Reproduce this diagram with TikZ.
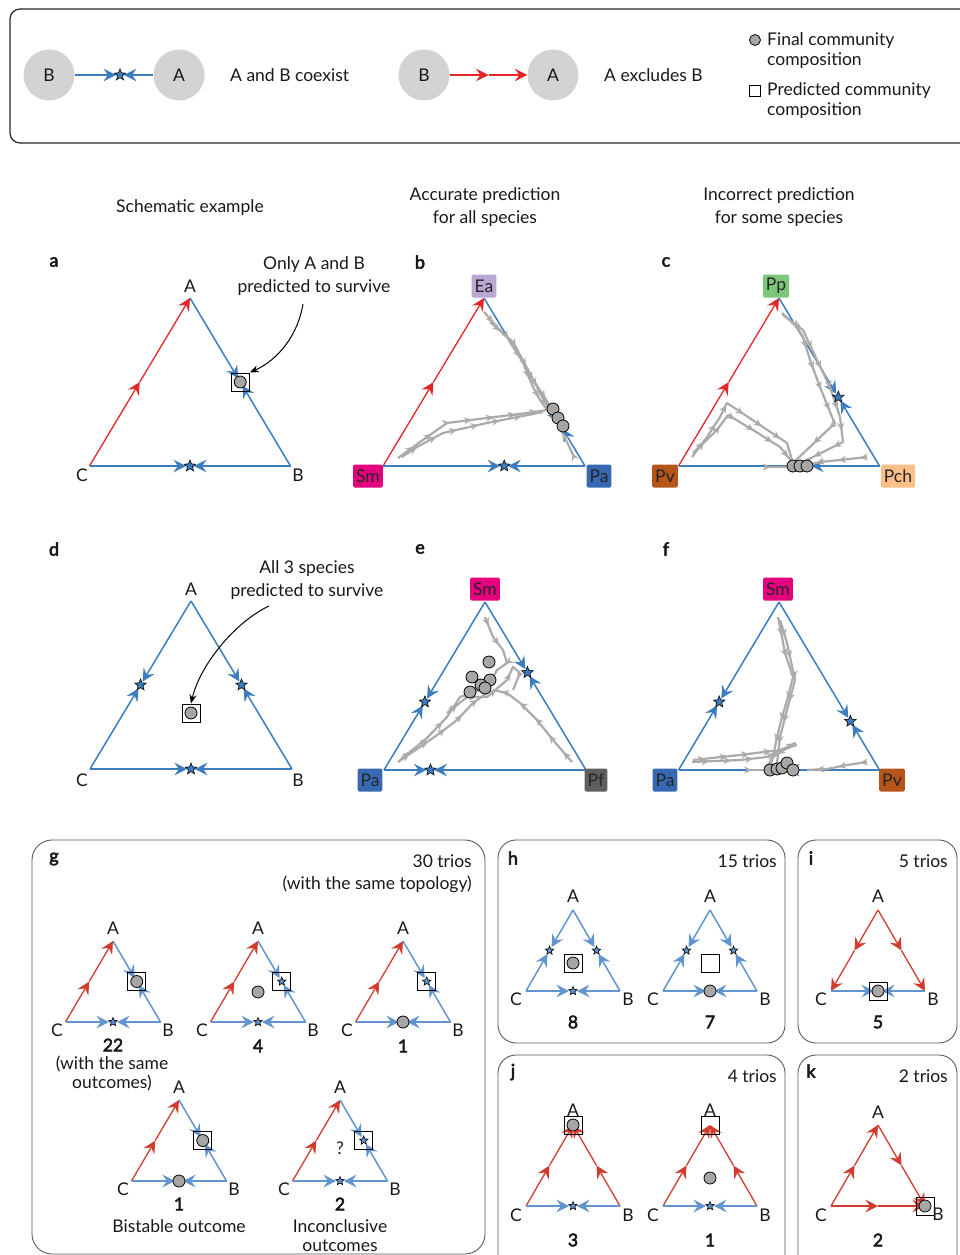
\documentclass[tikz,border=0pt]{standalone}
\usepackage{fontspec}
\setmainfont{Lato}[BoldFont=Lato,BoldFeatures={FakeBold=3.2}]
\usetikzlibrary{arrows.meta,shapes.geometric,calc,decorations.markings}

\definecolor{exred}{HTML}{E52629}
\definecolor{coblue}{HTML}{3C7DBF}
\definecolor{smred}{HTML}{D23C2F}
\definecolor{smblue}{HTML}{6294CF}
\definecolor{dotgray}{HTML}{A6A6A6}
\definecolor{trajgray}{HTML}{ABABAB}
\definecolor{sppgray}{HTML}{D3D3D3}
\definecolor{colSm}{HTML}{E5007E}
\definecolor{colPa}{HTML}{3669B1}
\definecolor{colEa}{HTML}{B9A8D3}
\definecolor{colPp}{HTML}{7DC77A}
\definecolor{colPv}{HTML}{B5551A}
\definecolor{colPch}{HTML}{FDBF87}
\definecolor{colPf}{HTML}{5E5E5E}

\newcommand{\tri}[5]{%
  \coordinate (#1A) at (#2,#3);
  \coordinate (#1B) at (#2+#4,#3+#5);
  \coordinate (#1C) at (#2-#4,#3+#5);}
\newcommand{\excl}[3][exred]{%
  \draw[#1,line width=1.3pt,endtip] (#2) -- ($(#2)!0.5!(#3)$);
  \draw[#1,line width=1.3pt,endtip] ($(#2)!0.5!(#3)$) -- (#3);}
\newcommand{\coex}[4][coblue]{%
  \draw[#1,line width=1.5pt,endtip,shorten >=4pt] (#2) -- (#4);
  \draw[#1,line width=1.5pt,endtip,shorten >=4pt] (#3) -- (#4);}

\begin{document}
\begin{tikzpicture}[x=1pt,y=-1pt,inner sep=0pt,text=black!90,font=\fontsize{17.5}{21}\selectfont,
  endtip/.style={-{Stealth[length=12.5pt,width=12.5pt,inset=4.5pt]}},
  spp/.style={circle,fill=sppgray,minimum size=51pt},
  eqstar/.style={star,star points=5,star point ratio=2.3,fill=coblue,draw=black,line width=0.6pt,minimum size=12pt},
  smstar/.style={eqstar,fill=smblue,minimum size=9pt},
  final/.style={circle,fill=dotgray,draw=black,line width=0.8pt,minimum size=12pt},
  pred/.style={rectangle,draw=black,line width=1pt,minimum size=18pt},
  spbox/.style={rounded corners=1.5pt,minimum height=23pt,inner xsep=3pt,text=black!85},
  panel/.style={font=\fontsize{18}{21}\selectfont\bfseries},
  numlbl/.style={font=\fontsize{17.5}{21}\selectfont\bfseries},
  twoline/.style={align=center,font=\fontsize{17.5}{23}\selectfont},
  trajline/.style={trajgray,line width=2.2pt,line join=round,postaction={decorate},
    decoration={markings,mark=between positions 0.12 and 0.95 step 22pt with {\arrow{Stealth[length=8pt,width=7pt]}}}},
  boxframe/.style={draw=black!65,line width=0.9pt,rounded corners=18pt}]
\useasboundingbox (0,0) rectangle (960,1255);

\draw[black!85,line width=1.2pt,rounded corners=10pt] (10,9) rectangle (985,143);
\node[spp] (lB1) at (49,75) {B};
\node[spp] (lA1) at (179,75) {A};
\coordinate (lE1) at (120,75);
\coex{lB1}{lA1}{lE1}
\node[eqstar] (lS1) at (lE1) {};
\node[anchor=west] (lT1) at (230,75) {A and B coexist};
\node[spp] (lB2) at (424,75) {B};
\node[spp] (lA2) at (553,75) {A};
\excl{lB2}{lA2}
\node[anchor=west] (lT2) at (604,75) {A excludes B};
\node[final,minimum size=11pt] (lF) at (755,40) {};
\node[anchor=west,align=left,font=\fontsize{17.5}{20}\selectfont] (lT3) at (767,51) {Final community\\composition};
\node[pred,minimum size=11pt] (lR) at (755,91) {};
\node[anchor=west,align=left,font=\fontsize{17.5}{20}\selectfont] (lT4) at (767,101) {Predicted community\\composition};

\node (h1) at (190,208) {Schematic example};
\node[twoline] (h2) at (485,207) {Accurate prediction\\for all species};
\node[twoline] (h3) at (779,207) {Incorrect prediction\\for some species};

% a
\node[panel] (pa) at (54,262) {a};
\tri{a}{190}{298}{100.5}{168}
\coordinate (aP) at ($(aA)!0.5!(aB)$);
\coordinate (aQ) at ($(aC)!0.5!(aB)$);
\excl{aC}{aA}
\coex{aA}{aB}{aP}
\coex{aC}{aB}{aQ}
\node[eqstar] (aS) at (aQ) {};
\node[final] (aF) at (aP) {};
\node[pred] (aR) at (aP) {};
\node (aLA) at (190,286) {A};
\node (aLC) at (82,475) {C};
\node (aLB) at (298,475) {B};
\node[twoline] (aNote) at (314,276) {Only A and B\\predicted to survive};
\draw[line width=1pt,-{Stealth[length=9pt,width=7pt]}] (303,304) .. controls (298,335) and (278,360) .. (aR.north east);

% b
\node[panel] (pb) at (420,262) {b};
\tri{b}{484}{298}{101}{168}
\coordinate (bP) at ($(bA)!0.76!(bB)$);
\coordinate (bQ) at ($(bC)!0.6!(bB)$);
\excl{bC}{bA}
\coex{bA}{bB}{bP}
\coex{bC}{bB}{bQ}
\draw[trajline] (484,312) -- (497,327) -- (507,337) -- (513,347) -- (522,360) -- (527,373) -- (533,387) -- (540,400) -- (547,410);
\draw[trajline] (490,322) -- (513,342) -- (527,368) -- (540,393) -- (553,417);
\draw[trajline] (398,458) -- (420,442) -- (447,423) -- (487,418) -- (527,413) -- (547,410);
\draw[trajline] (402,457) -- (417,447) -- (443,433) -- (487,423) -- (543,412);
\draw[trajline] (574,457) -- (568,444) -- (562,432) -- (558,421);
\draw[trajline] (530,375) -- (545,398) -- (556,416);
\node[eqstar] (bS) at (bQ) {};
\foreach \p/\q in {553/409,558/418,563/426} \node[final] (bF\p) at (\p,\q) {};
\node[spbox,fill=colEa] (bEa) at (484,286) {Ea};
\node[spbox,fill=colSm] (bSm) at (368,476) {Sm};
\node[spbox,fill=colPa] (bPa) at (599,476) {Pa};

% c
\node[panel] (pc) at (666,262) {c};
\tri{c}{779}{298}{100.5}{168}
\coordinate (cP) at ($(cA)!0.59!(cB)$);
\coordinate (cQ) at ($(cC)!0.64!(cB)$);
\excl{cC}{cA}
\coex{cA}{cB}{cP}
\coex{cC}{cB}{cQ}
\draw[trajline] (782,313) -- (797,327) -- (803,337) -- (810,360) -- (820,387) -- (832,417) -- (835,423) -- (793,463);
\draw[trajline] (783,315) -- (803,330) -- (817,360) -- (830,387) -- (840,417) -- (843,442) -- (813,457) -- (797,465);
\draw[trajline] (692,457) -- (707,437) -- (720,417) -- (727,403) -- (757,423) -- (787,443) -- (792,460);
\draw[trajline] (693,453) -- (717,430) -- (728,415) -- (753,430) -- (780,447) -- (793,463);
\draw[trajline] (867,457) -- (840,460) -- (820,462) -- (807,465);
\draw[trajline] (768,467) -- (790,467);
\node[eqstar] (cS) at (cP) {};
\foreach \p in {793,800,807} \node[final] (cF\p) at (\p,466) {};
\node[spbox,fill=colPp] (cPp) at (776,286) {Pp};
\node[spbox,fill=colPv] (cPv) at (665,476) {Pv};
\node[spbox,fill=colPch] (cPch) at (898,476) {Pch};

% d
\node[panel] (pd) at (54,549) {d};
\tri{d}{191}{601}{101}{168}
\coordinate (dL) at ($(dA)!0.5!(dC)$);
\coordinate (dR) at ($(dA)!0.5!(dB)$);
\coordinate (dQ) at ($(dC)!0.5!(dB)$);
\coordinate (dO) at (191,713);
\coex{dA}{dC}{dL}
\coex{dA}{dB}{dR}
\coex{dC}{dB}{dQ}
\foreach \s in {dL,dR,dQ} \node[eqstar] (\s S) at (\s) {};
\node[final] (dF) at (dO) {};
\node[pred] (dRq) at (dO) {};
\node (dLA) at (191,589) {A};
\node (dLC) at (82,780) {C};
\node (dLB) at (298,780) {B};
\node[twoline] (dNote) at (307,580) {All 3 species\\predicted to survive};
\draw[line width=1pt,-{Stealth[length=9pt,width=7pt]}] (269,606) .. controls (235,622) and (200,665) .. (dRq.north);

% e
\node[panel] (pe) at (420,549) {e};
\tri{e}{485}{602}{101}{168}
\coordinate (eL) at ($(eA)!0.595!(eC)$);
\coordinate (eR) at ($(eA)!0.42!(eB)$);
\coordinate (eQ) at ($(eC)!0.23!(eB)$);
\coex{eA}{eC}{eL}
\coex{eA}{eB}{eR}
\coex{eC}{eB}{eQ}
\draw[trajline] (398,762) -- (420,747) -- (440,733) -- (457,720) -- (473,703) -- (487,693);
\draw[trajline] (400,760) -- (427,738) -- (447,717) -- (460,697) -- (480,690);
\draw[trajline] (485,617) -- (493,637) -- (503,650) -- (507,663) -- (497,670) -- (490,683);
\draw[trajline] (572,762) -- (553,740) -- (537,720) -- (520,703) -- (507,693) -- (493,690);
\draw[trajline] (447,713) -- (467,697) -- (487,697) -- (507,680) -- (513,667) -- (520,673) -- (513,690);
\foreach \s in {eL,eR,eQ} \node[eqstar] (\s S) at (\s) {};
\foreach \p/\q in {489/662,472/677,490/680,481/685,485/688,470/692} \node[final] (eF\p) at (\p,\q) {};
\node[spbox,fill=colSm] (eSm) at (485,589) {Sm};
\node[spbox,fill=colPa] (ePa) at (370,780) {Pa};
\node[spbox,fill=colPf] (ePf) at (596,780) {Pf};

% f
\node[panel] (pf) at (666,549) {f};
\tri{f}{779}{602}{100.5}{168}
\coordinate (fL) at ($(fA)!0.595!(fC)$);
\coordinate (fR) at ($(fA)!0.71!(fB)$);
\coordinate (fQ) at ($(fC)!0.52!(fB)$);
\coex{fA}{fC}{fL}
\coex{fA}{fB}{fR}
\coex{fC}{fB}{fQ}
\draw[trajline] (778,617) -- (782,637) -- (785,653) -- (793,677) -- (788,697) -- (782,717) -- (777,737) -- (773,757) -- (770,767);
\draw[trajline] (780,620) -- (787,643) -- (795,680) -- (787,710) -- (780,737) -- (777,763);
\draw[trajline] (692,762) -- (740,760) -- (767,757) -- (795,743) -- (773,757) -- (767,767);
\draw[trajline] (693,760) -- (740,755) -- (780,750) -- (797,745);
\draw[trajline] (867,762) -- (847,765) -- (827,769) -- (807,770);
\draw[trajline] (750,770) -- (767,770);
\foreach \s in {fL,fR} \node[eqstar] (\s S) at (\s) {};
\foreach \p/\q in {770/770,777/769,782/768,787/763,793/770} \node[final] (fF\p) at (\p,\q) {};
\node[spbox,fill=colSm] (fSm) at (778,589) {Sm};
\node[spbox,fill=colPa] (fPa) at (665,780) {Pa};
\node[spbox,fill=colPv] (fPv) at (892,780) {Pv};

% g
\draw[boxframe,rounded corners=20pt] (32,840) rectangle (485,1254);
\node[panel] (pg) at (54,859) {g};
\node[anchor=east] (gT1) at (472,861) {30 trios};
\node[anchor=east] (gT2) at (472,884) {(with the same topology)};
\foreach \n/\x/\y in {g1/113/941,g2/258/941,g3/403/941,g4/179/1100,g5/340/1100} {
  \tri{\n}{\x}{\y}{47.5}{81}
  \coordinate (\n P) at ($(\n A)!0.5!(\n B)$);
  \coordinate (\n Q) at ($(\n C)!0.5!(\n B)$);
  \excl[smred]{\n C}{\n A}
  \coex[smblue]{\n A}{\n B}{\n P}
  \coex[smblue]{\n C}{\n B}{\n Q}
  \node (\n LA) at (\x,\y-13) {A};
  \node (\n LC) at (\x-56,\y+89) {C};
  \node (\n LB) at (\x+55,\y+89) {B};
}
\node[final] (g1F) at (g1P) {};
\node[pred] (g1R) at (g1P) {};
\node[smstar] (g1S) at (g1Q) {};
\node[numlbl] (g1N) at (113,1045) {22};
\node[align=center,font=\fontsize{17.5}{19}\selectfont] (g1T) at (112,1073) {(with the same\\outcomes)};
\node[smstar] (g2S) at (g2P) {};
\node[pred] (g2R) at (g2P) {};
\node[smstar] (g2S2) at (g2Q) {};
\node[final] (g2F) at (258,992) {};
\node[numlbl] (g2N) at (258,1046) {4};
\node[smstar] (g3S) at (g3P) {};
\node[pred] (g3R) at (g3P) {};
\node[final] (g3F) at (g3Q) {};
\node[numlbl] (g3N) at (403,1046) {1};
\node[final] (g4F) at (g4P) {};
\node[pred] (g4R) at (g4P) {};
\node[final] (g4F2) at (g4Q) {};
\node[numlbl] (g4N) at (179,1204) {1};
\node (g4T) at (179,1226) {Bistable outcome};
\node[smstar] (g5S) at (g5P) {};
\node[pred] (g5R) at (g5P) {};
\node[smstar] (g5S2) at (g5Q) {};
\node (g5Q2) at (340,1148) {?};
\node[numlbl] (g5N) at (340,1204) {2};
\node[align=center,font=\fontsize{17.5}{19}\selectfont] (g5T) at (340,1236) {Inconclusive\\outcomes};

% h
\draw[boxframe] (498,840) rectangle (785,1043);
\node[panel] (ph) at (513,858) {h};
\node[anchor=east] (hT) at (777,861) {15 trios};
\foreach \n/\x in {h1/573,h2/710} {
  \tri{\n}{\x}{910}{47}{81}
  \coordinate (\n L) at ($(\n A)!0.5!(\n C)$);
  \coordinate (\n R) at ($(\n A)!0.5!(\n B)$);
  \coordinate (\n Q) at ($(\n C)!0.5!(\n B)$);
  \coex[smblue]{\n A}{\n C}{\n L}
  \coex[smblue]{\n A}{\n B}{\n R}
  \coex[smblue]{\n C}{\n B}{\n Q}
  \node[smstar] (\n SL) at (\n L) {};
  \node[smstar] (\n SR) at (\n R) {};
  \node (\n LA) at (\x,896) {A};
  \node (\n LC) at (\x-57,999) {C};
  \node (\n LB) at (\x+55,999) {B};
}
\node[smstar] (h1SQ) at (h1Q) {};
\node[final] (h1F) at (573,963) {};
\node[pred] (h1Rq) at (573,963) {};
\node[numlbl] (h1N) at (573,1022) {8};
\node[final] (h2F) at (h2Q) {};
\node[pred] (h2Rq) at (710,963) {};
\node[numlbl] (h2N) at (710,1022) {7};

% i
\draw[boxframe] (798,840) rectangle (957,1043);
\node[panel] (pi) at (811,858) {i};
\node[anchor=east] (iT) at (948,861) {5 trios};
\tri{i}{878}{910}{47}{81}
\coordinate (iQ) at ($(iC)!0.5!(iB)$);
\excl[smred]{iA}{iC}
\excl[smred]{iA}{iB}
\coex[smblue]{iC}{iB}{iQ}
\node[final] (iF) at (iQ) {};
\node[pred] (iR) at (iQ) {};
\node (iLA) at (878,896) {A};
\node (iLC) at (821,999) {C};
\node (iLB) at (933,999) {B};
\node[numlbl] (iN) at (878,1022) {5};

% j
\draw[boxframe] (498,1055) rectangle (785,1280);
\node[panel] (pj) at (513,1072) {j};
\node[anchor=east] (jT) at (777,1076) {4 trios};
\foreach \n/\x in {j1/573,j2/710} {
  \tri{\n}{\x}{1125}{47}{81}
  \coordinate (\n Q) at ($(\n C)!0.5!(\n B)$);
  \excl[smred]{\n C}{\n A}
  \excl[smred]{\n B}{\n A}
  \coex[smblue]{\n C}{\n B}{\n Q}
  \node[smstar] (\n S) at (\n Q) {};
  \node (\n LA) at (\x,1110) {A};
  \node (\n LC) at (\x-57,1215) {C};
  \node (\n LB) at (\x+55,1215) {B};
}
\node[final] (j1F) at (j1A) {};
\node[pred] (j1R) at (j1A) {};
\node[numlbl] (j1N) at (573,1240) {3};
\node[pred] (j2R) at (j2A) {};
\node[final] (j2F) at (710,1178) {};
\node[numlbl] (j2N) at (710,1240) {1};

% k
\draw[boxframe] (798,1055) rectangle (957,1280);
\node[panel] (pk) at (811,1071) {k};
\node[anchor=east] (kT) at (948,1076) {2 trios};
\tri{k}{878}{1125}{47}{81}
\excl[smred]{kC}{kA}
\excl[smred]{kA}{kB}
\excl[smred]{kC}{kB}
\node[final] (kF) at (kB) {};
\node[pred] (kR) at (kB) {};
\node (kLA) at (878,1112) {A};
\node (kLC) at (821,1215) {C};
\node (kLB) at (938,1214) {B};
\node[numlbl] (kN) at (878,1240) {2};
\end{tikzpicture}
\end{document}
